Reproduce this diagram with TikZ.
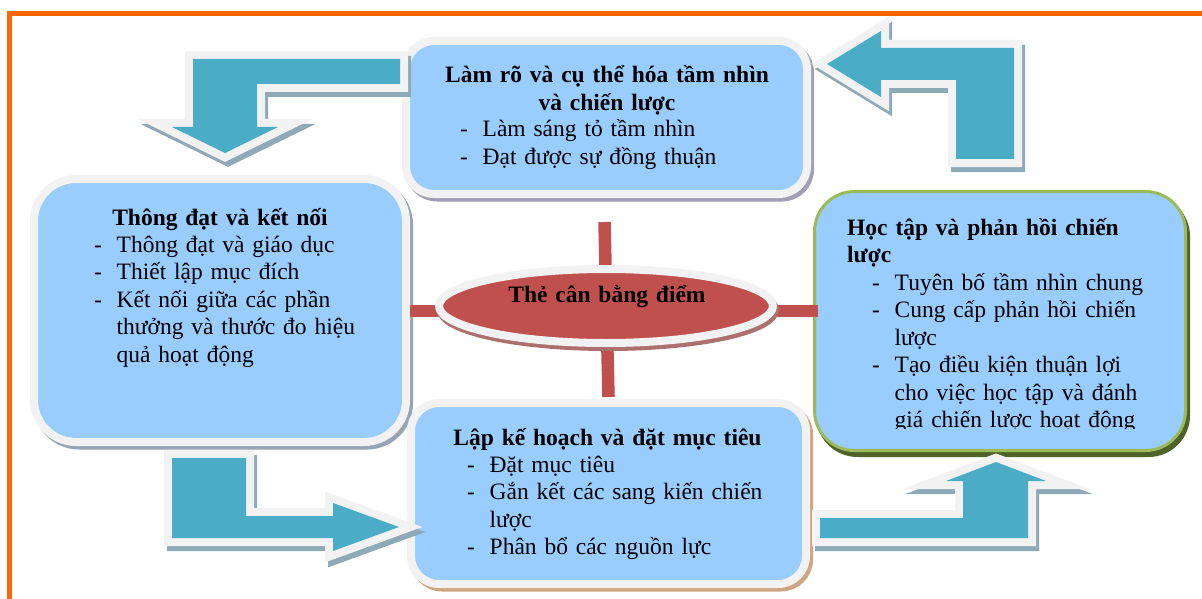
\documentclass[tikz,border=0pt]{standalone}
\usepackage{fontspec}
\setmainfont{Liberation Serif}
\usetikzlibrary{shapes.geometric}

\definecolor{frameorange}{RGB}{255,102,0}
\definecolor{boxblue}{RGB}{153,204,255}
\definecolor{bordergray}{RGB}{242,242,242}
\definecolor{arrowteal}{RGB}{75,172,198}
\definecolor{arrowshade}{RGB}{142,170,182}
\definecolor{scarlet}{RGB}{192,80,77}
\definecolor{scarletshade}{RGB}{172,112,110}
\definecolor{leafgreen}{RGB}{155,187,89}
\definecolor{leafshade}{RGB}{79,98,40}
\definecolor{lavshade}{RGB}{162,158,180}
\definecolor{steelshade}{RGB}{150,164,180}
\definecolor{tanshade}{RGB}{206,166,130}

\lineskiplimit=-100pt
\newcommand{\dashitem}{\makebox[22.5pt][l]{-}}
\newcommand{\contline}{\hspace*{22.5pt}}

\tikzset{
  panel/.style={rectangle, rounded corners=#1, draw=bordergray, line width=8pt,
    fill=boxblue, inner sep=0pt},
  panelshadow/.style={preaction={draw=#1, fill=#1, line width=8pt,
    transform canvas={shift={(3pt,-3.5pt)}}}},
  blockarrow/.style={fill=arrowteal, line join=miter,
    preaction={draw=arrowshade, fill=arrowshade, line width=16pt,
      transform canvas={shift={(3pt,-5pt)}}},
    preaction={draw=bordergray, line width=16pt}},
  redbar/.style={draw=scarlet, line width=12.5pt},
  body/.style={inner sep=0pt, text width=#1, align=left,
    font=\fontsize{23.5pt}{27.5pt}\selectfont},
  head/.style={inner sep=0pt, text width=#1, align=center,
    font=\fontsize{23.5pt}{27.5pt}\selectfont\bfseries},
}

\begin{document}
\begin{tikzpicture}[x=1pt, y=-1pt]
  \useasboundingbox (0,0) rectangle (1202,599);
  \clip (0,0) rectangle (1202,599);

  % outer frame
  \draw[frameorange, line width=5pt] (9.5,14) rectangle (1230,640);

  % the four stages
  \node[panel=28pt, panelshadow=lavshade, minimum width=401pt, minimum height=153pt]
    (vision) at (606.5,117.5) {};
  \node[panel=42pt, panelshadow=steelshade, minimum width=372pt, minimum height=263pt]
    (comm) at (220,310.5) {};
  \node[panel=28pt, panelshadow=tanshade, minimum width=395pt, minimum height=181pt]
    (plan) at (608.5,493.5) {};
  \node[rectangle, rounded corners=40pt, draw=leafgreen, line width=3pt, fill=boxblue,
    inner sep=0pt, minimum width=371pt, minimum height=259pt,
    preaction={draw=leafshade, fill=leafshade, line width=3pt,
      transform canvas={shift={(3pt,-5pt)}}}]
    (learn) at (1000,321) {};

  % cross behind the scorecard
  \coordinate (barT) at (604.5,222);
  \coordinate (barB) at (608.5,397);
  \coordinate (barL) at (410,311);
  \coordinate (barR) at (818,311);
  \draw[redbar] (barT) -- (barB);
  \draw[redbar] (barL) -- (barR);

  % balanced scorecard hub
  \node[ellipse, draw=bordergray, line width=8pt, fill=scarlet, inner sep=0pt,
    minimum width=334pt, minimum height=74pt,
    preaction={draw=scarletshade, fill=scarletshade, line width=8pt,
      transform canvas={shift={(2pt,-4pt)}}}]
    (bsc) at (606,306) {};
  \node[head=330pt, anchor=base] (bsctext) at (607,302) {Thẻ cân bằng điểm};

  % bent block arrows of the cycle
  \path[blockarrow] (400,59) -- (193,59) -- (193,127) -- (172,127) -- (225,153)
    -- (278,127) -- (257,127) -- (257,84) -- (400,84) -- cycle;
  \path[blockarrow] (1014,159) -- (1014,48) -- (881,48) -- (881,31) -- (827,64)
    -- (881,97) -- (881,80) -- (956,80) -- (956,159) -- cycle;
  \path[blockarrow] (172,458) -- (246,458) -- (246,516) -- (333,516) -- (333,503)
    -- (399,527) -- (333,551) -- (333,538) -- (172,538) -- cycle;
  \path[blockarrow] (820,518) -- (963,518) -- (963,481) -- (946,481) -- (996,462)
    -- (1046,481) -- (1028,481) -- (1028,538) -- (820,538) -- cycle;

  % texts of the stages
  \node[head=400pt, anchor=base] (visionhead) at (607,83)
    {Làm rõ và cụ thể hóa tầm nhìn\\và chiến lược};
  \node[body=340pt, anchor=base west] (visionlist) at (460,137)
    {\dashitem Làm sáng tỏ tầm nhìn\\\dashitem Đạt được sự đồng thuận};

  \node[head=360pt, anchor=base] (commhead) at (220,225) {Thông đạt và kết nối};
  \node[body=300pt, anchor=base west] (commlist) at (94,252)
    {\dashitem Thông đạt và giáo dục\\
     \dashitem Thiết lập mục đích\\
     \dashitem Kết nối giữa các phần\\
     \contline thưởng và thước đo hiệu\\
     \contline quả hoạt động};

  \node[head=390pt, anchor=base] (planhead) at (607.5,445)
    {Lập kế hoạch và đặt mục tiêu};
  \node[body=330pt, anchor=base west] (planlist) at (467,472)
    {\dashitem Đặt mục tiêu\\
     \dashitem Gắn kết các sang kiến chiến\\
     \contline lược\\
     \dashitem Phân bổ các nguồn lực};

  \node[body=330pt, anchor=base west, font=\fontsize{23.5pt}{27.5pt}\selectfont\bfseries]
    (learnhead) at (847,235) {Học tập và phản hồi chiến\\lược};
  \begin{scope}
    \clip (830,270) rectangle (1180,428);
    \node[body=300pt, anchor=base west] (learnlist) at (872,290)
      {\dashitem Tuyên bố tầm nhìn chung\\
       \dashitem Cung cấp phản hồi chiến\\
       \contline lược\\
       \dashitem Tạo điều kiện thuận lợi\\
       \contline cho việc học tập và đánh\\
       \contline giá chiến lược hoạt động};
  \end{scope}
\end{tikzpicture}
\end{document}
